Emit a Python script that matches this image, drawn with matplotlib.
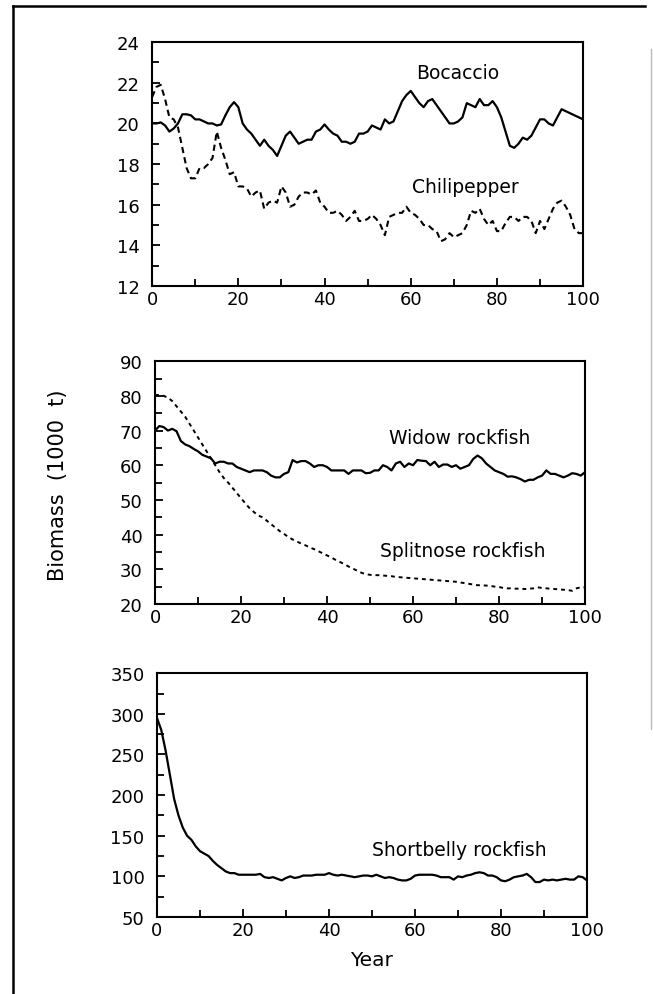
import numpy as np
import matplotlib
matplotlib.use("Agg")
import matplotlib.pyplot as plt
from matplotlib.ticker import MultipleLocator
from matplotlib.lines import Line2D

years = np.arange(0, 101)

bocaccio = [
    20.0, 20.0, 20.05, 19.9, 19.6, 19.75, 20.0, 20.45, 20.45, 20.4,
    20.2, 20.2, 20.1, 20.0, 20.0, 19.9, 19.95, 20.4, 20.8, 21.05,
    20.8, 20.0, 19.7, 19.5, 19.2, 18.9, 19.2, 18.9, 18.7, 18.4,
    18.9, 19.4, 19.6, 19.3, 19.0, 19.1, 19.2, 19.2, 19.6, 19.7,
    19.95, 19.7, 19.5, 19.4, 19.1, 19.1, 19.0, 19.1, 19.5, 19.5,
    19.6, 19.9, 19.8, 19.7, 20.2, 20.0, 20.1, 20.6, 21.1, 21.4,
    21.6, 21.3, 21.0, 20.8, 21.1, 21.2, 20.9, 20.6, 20.3, 20.0,
    20.0, 20.1, 20.3, 21.0, 20.9, 20.8, 21.2, 20.9, 20.9, 21.1,
    20.8, 20.3, 19.6, 18.9, 18.8, 19.0, 19.3, 19.2, 19.4, 19.8,
    20.2, 20.2, 20.0, 19.9, 20.3, 20.7, 20.6, 20.5, 20.4, 20.3,
    20.2,
]
chilipepper = [
    21.3, 21.8, 21.9, 21.2, 20.3, 20.2, 19.8, 18.8, 17.8, 17.3,
    17.3, 17.8, 17.8, 18.0, 18.3, 19.6, 18.8, 18.2, 17.5, 17.6,
    16.9, 16.9, 16.8, 16.4, 16.6, 16.7, 15.8, 16.1, 16.2, 16.1,
    16.9, 16.6, 15.9, 16.0, 16.4, 16.6, 16.6, 16.5, 16.7, 16.1,
    15.9, 15.6, 15.6, 15.7, 15.5, 15.2, 15.4, 15.7, 15.2, 15.2,
    15.3, 15.5, 15.3, 15.0, 14.5, 15.4, 15.5, 15.6, 15.6, 15.9,
    15.6, 15.5, 15.3, 15.0, 15.0, 14.8, 14.7, 14.2, 14.3, 14.6,
    14.4, 14.5, 14.6, 15.0, 15.7, 15.6, 15.8, 15.3, 15.0, 15.2,
    14.7, 14.7, 15.1, 15.4, 15.4, 15.2, 15.4, 15.4, 15.2, 14.6,
    15.2, 14.8, 15.3, 15.8, 16.1, 16.2, 15.9, 15.5, 14.8, 14.6,
    14.6,
]
widow = [
    70.0, 71.3, 71.0, 70.0, 70.5, 69.8, 67.0, 66.0, 65.5, 64.7,
    64.0, 63.0, 62.5, 62.0, 60.5, 61.0, 61.0, 60.5, 60.5, 59.5,
    59.0, 58.5, 58.0, 58.5, 58.5, 58.5, 58.0, 57.0, 56.5, 56.5,
    57.5, 58.0, 61.5, 60.8, 61.2, 61.2, 60.5, 59.5, 60.0, 60.0,
    59.5, 58.5, 58.5, 58.5, 58.5, 57.5, 58.5, 58.5, 58.5, 57.7,
    57.8, 58.5, 58.5, 60.0, 59.5, 58.5, 60.5, 61.0, 59.5, 60.5,
    60.0, 61.5, 61.3, 61.2, 60.0, 61.0, 59.5, 60.2, 60.2, 59.5,
    60.0, 59.0, 59.5, 60.0, 61.8, 62.8, 62.0, 60.5, 59.5, 58.5,
    58.0, 57.5, 56.7, 56.8, 56.5, 56.0, 55.3, 55.8, 55.8, 56.5,
    57.0, 58.5, 57.5, 57.5, 57.0, 56.5, 57.0, 57.7, 57.5, 57.0,
    58.0,
]
splitnose = [
    80.3, 80.2, 80.0, 79.5, 78.5, 77.0, 75.5, 74.0, 72.0, 70.0,
    68.0, 66.0, 64.0, 62.0, 60.0, 58.0, 56.3, 55.0, 53.5, 52.0,
    50.5, 49.0, 47.6, 46.5, 45.5, 45.0, 44.0, 43.0, 42.0, 41.0,
    40.2, 39.3, 38.6, 38.0, 37.4, 36.9, 36.3, 35.8, 35.2, 34.6,
    34.0, 33.4, 32.7, 32.1, 31.5, 30.8, 30.2, 29.6, 29.0, 28.6,
    28.4, 28.3, 28.3, 28.2, 28.1, 28.0, 27.8, 27.7, 27.6, 27.5,
    27.4, 27.3, 27.2, 27.1, 27.0, 26.9, 26.8, 26.7, 26.6, 26.5,
    26.4, 26.2, 26.0, 25.8, 25.6, 25.4, 25.4, 25.3, 25.2, 25.0,
    24.9, 24.6, 24.5, 24.5, 24.4, 24.4, 24.3, 24.4, 24.5, 24.8,
    24.6, 24.5, 24.4, 24.3, 24.2, 24.1, 24.0, 23.8, 24.5, 24.8,
    24.8,
]
shortbelly = [
    295, 280, 255, 225, 195, 175, 160, 150, 145, 137,
    131, 128, 125, 119, 114, 110, 106, 104, 104, 102,
    102, 102, 102, 102, 103, 99, 98, 99, 97, 95,
    98, 100, 98, 99, 101, 101, 101, 102, 102, 102,
    104, 102, 101, 102, 101, 100, 99, 100, 101, 101,
    100, 102, 100, 98, 99, 98, 96, 95, 95, 97,
    101, 102, 102, 102, 102, 101, 99, 99, 99, 96,
    100, 99, 101, 102, 104, 105, 104, 101, 101, 99,
    95, 94, 96, 99, 100, 101, 103, 99, 93, 93,
    96, 95, 96, 95, 96, 97, 96, 96, 100, 99,
    95,
]

plt.rcParams['font.family'] = ['DejaVu Sans']
plt.rcParams['font.size'] = 13

fig = plt.figure(figsize=(6.53, 9.95), dpi=100)


def style_axes(ax, ymin, ymax, ymajor, yminor):
    ax.set_xlim(0, 100)
    ax.set_ylim(ymin, ymax)
    ax.xaxis.set_major_locator(MultipleLocator(20))
    ax.xaxis.set_minor_locator(MultipleLocator(10))
    ax.yaxis.set_major_locator(MultipleLocator(ymajor))
    ax.yaxis.set_minor_locator(MultipleLocator(yminor))
    ax.tick_params(which='both', direction='in', top=False, right=False,
                   width=1.3, labelsize=13)
    ax.tick_params(which='major', length=6)
    ax.tick_params(which='minor', length=5)
    ax.tick_params(axis='x', which='major', pad=3)
    ax.tick_params(axis='y', which='major', pad=9)
    for s in ax.spines.values():
        s.set_linewidth(1.5)


label_size = 13.5

ax1 = fig.add_axes([0.233, 0.7116, 0.660, 0.245])
ax1.plot(years, bocaccio, color='black', lw=1.6)
ax1.plot(years, chilipepper, color='black', lw=1.5, ls=(0, (3, 2)))
style_axes(ax1, 12, 24, 2, 1)
ax1.text(70.8, 22.5, 'Bocaccio', ha='center', va='center', fontsize=label_size)
ax1.text(72.6, 16.9, 'Chilipepper', ha='center', va='center', fontsize=label_size)

ax2 = fig.add_axes([0.2374, 0.392, 0.6585, 0.244])
ax2.plot(years, widow, color='black', lw=1.6)
ax2.plot(years, splitnose, color='black', lw=1.4, ls=(0, (2, 2)))
style_axes(ax2, 20, 90, 10, 5)
ax2.text(70.9, 68.1, 'Widow rockfish', ha='center', va='center', fontsize=label_size)
ax2.text(71.6, 35.4, 'Splitnose rockfish', ha='center', va='center', fontsize=label_size)

ax3 = fig.add_axes([0.2404, 0.0774, 0.6585, 0.245])
ax3.plot(years, shortbelly, color='black', lw=1.6)
style_axes(ax3, 50, 350, 50, 25)
ax3.text(70.2, 133, 'Shortbelly rockfish', ha='center', va='center', fontsize=label_size)
ax3.set_xlabel('Year', fontsize=14.5, labelpad=8)

fig.text(0.089, 0.512, 'Biomass  (1000  t)', rotation=90, ha='center', va='center',
         fontsize=15)

# page border from the scanned figure
fig.add_artist(Line2D([13 / 653, 13 / 653], [0, 1 - 7 / 995], color='black', lw=1.8))
fig.add_artist(Line2D([13 / 653, 645 / 653], [1 - 7 / 995, 1 - 7 / 995], color='black', lw=1.8))
fig.add_artist(Line2D([651 / 653, 651 / 653], [1 - 730 / 995, 1 - 50 / 995], color='#bbbbbb', lw=1.0))

fig.savefig('out.png', dpi=100)
